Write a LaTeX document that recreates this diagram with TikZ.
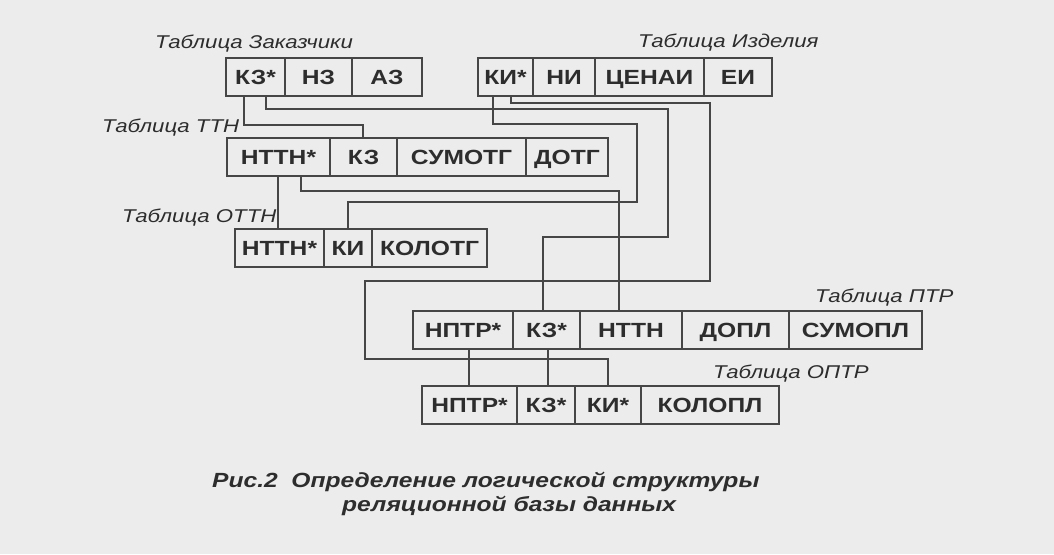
\documentclass[tikz,border=0pt]{standalone}
\usepackage{fontspec}
\setmainfont{Liberation Sans}[FakeStretch=1.2]
\usepackage{xcolor}
\usepackage{tikz}
\usetikzlibrary{calc}
\definecolor{paper}{RGB}{236,236,236}
\definecolor{linegray}{RGB}{70,70,70}
\definecolor{inkgray}{RGB}{45,45,45}

\tikzset{
  cell/.style={draw=linegray, line width=1.4pt, anchor=north west, outer sep=0pt,
    inner sep=0pt, minimum height=38pt, text height=14.7pt, text depth=0pt,
    text=inkgray, font=\fontsize{20.5}{22}\selectfont\bfseries},
  tabname/.style={anchor=base west, inner sep=0pt, text=inkgray,
    font=\fontsize{18.5}{20}\selectfont\itshape},
  caption/.style={anchor=base west, inner sep=0pt, text=inkgray,
    font=\fontsize{20.5}{22}\selectfont\bfseries\itshape},
  link/.style={draw=linegray, line width=1.5pt}
}

\begin{document}
\begin{tikzpicture}[x=1pt, y=-1pt]
  \fill[paper] (0,0) rectangle (1054,554);
  \useasboundingbox (0,0) rectangle (1054,554);

  % Заказчики
  \node[tabname] (lblZak) at (155,48) {Таблица Заказчики};
  \node[cell, minimum width=59pt] (zakKZ) at (226,58) {КЗ*};
  \node[cell, minimum width=67pt] (zakNZ) at (285,58) {НЗ};
  \node[cell, minimum width=70pt] (zakAZ) at (352,58) {АЗ};

  % Изделия
  \node[tabname] (lblIzd) at (638,47) {Таблица Изделия};
  \node[cell, minimum width=55pt] (izdKI) at (478,58) {КИ*};
  \node[cell, minimum width=62pt] (izdNI) at (533,58) {НИ};
  \node[cell, minimum width=109pt] (izdCena) at (595,58) {ЦЕНАИ};
  \node[cell, minimum width=68pt] (izdEI) at (704,58) {ЕИ};

  % ТТН
  \node[tabname] (lblTtn) at (102,132) {Таблица ТТН};
  \node[cell, minimum width=103pt] (ttnNT) at (227,138) {НТТН*};
  \node[cell, minimum width=67pt] (ttnKZ) at (330,138) {КЗ};
  \node[cell, minimum width=129pt] (ttnSum) at (397,138) {СУМОТГ};
  \node[cell, minimum width=82pt] (ttnDot) at (526,138) {ДОТГ};

  % ОТТН
  \node[tabname] (lblOttn) at (122,222) {Таблица ОТТН};
  \node[cell, minimum width=89pt] (ottnNT) at (235,229) {НТТН*};
  \node[cell, minimum width=48pt] (ottnKI) at (324,229) {КИ};
  \node[cell, minimum width=115pt] (ottnKol) at (372,229) {КОЛОТГ};

  % ПТР
  \node[tabname] (lblPtr) at (815,302) {Таблица ПТР};
  \node[cell, minimum width=100pt] (ptrNP) at (413,311) {НПТР*};
  \node[cell, minimum width=67pt] (ptrKZ) at (513,311) {КЗ*};
  \node[cell, minimum width=102pt] (ptrNT) at (580,311) {НТТН};
  \node[cell, minimum width=107pt] (ptrDop) at (682,311) {ДОПЛ};
  \node[cell, minimum width=133pt] (ptrSum) at (789,311) {СУМОПЛ};

  % ОПТР
  \node[tabname] (lblOptr) at (713,378) {Таблица ОПТР};
  \node[cell, minimum width=95pt] (optrNP) at (422,386) {НПТР*};
  \node[cell, minimum width=58pt] (optrKZ) at (517,386) {КЗ*};
  \node[cell, minimum width=66pt] (optrKI) at (575,386) {КИ*};
  \node[cell, minimum width=138pt] (optrKol) at (641,386) {КОЛОПЛ};

  % связи
  \draw[link] ([xshift=-11.5pt]zakKZ.south) -- ++(0,29) -| ([xshift=-0.5pt]ttnKZ.north);
  \draw[link] ([xshift=10.5pt]zakKZ.south) -- ++(0,13) -| (668,237) -| ([xshift=-3.5pt]ptrKZ.north);
  \draw[link] ([xshift=-12.5pt]izdKI.south) -- ++(0,28) -| (637,202) -| (ottnKI.north);
  \draw[link] ([xshift=5.5pt]izdKI.south) -- ++(0,7) -| (710,281) -| (365,359) -| (optrKI.north);
  \draw[link] ([xshift=-0.5pt]ttnNT.south) -- ([xshift=-0.5pt]ttnNT.south |- ottnNT.north);
  \draw[link] ([xshift=22.5pt]ttnNT.south) -- ++(0,15) -| ([xshift=-12pt]ptrNT.north);
  \draw[link] ([xshift=-0.5pt]optrNP.north |- ptrNP.south) -- ([xshift=-0.5pt]optrNP.north);
  \draw[link] ([xshift=1.5pt]ptrKZ.south) -- ([xshift=1.5pt]ptrKZ.south |- optrKZ.north);

  \node[caption] (capA) at (212,487) {Рис.2\ \ Определение логической структуры};
  \node[caption] (capB) at (342,511) {реляционной базы данных};
\end{tikzpicture}
\end{document}
